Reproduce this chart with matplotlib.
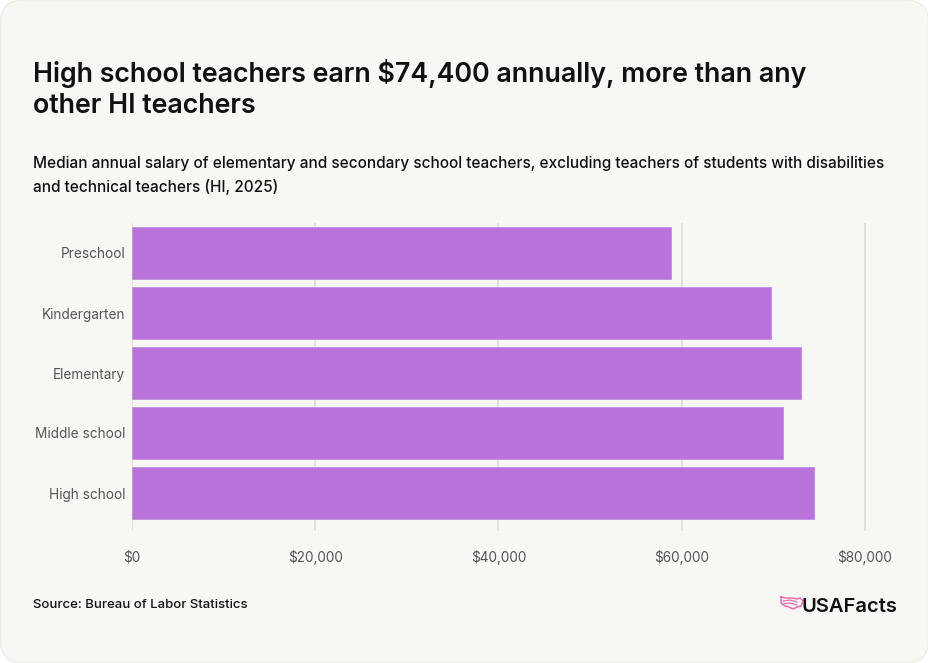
import numpy as np
import matplotlib.pyplot as plt
from matplotlib.patches import FancyBboxPatch
from matplotlib.ticker import FuncFormatter

# Dados
categorias = ['Preschool', 'Kindergarten', 'Elementary', 'Middle school', 'High school']
salarios = [58800, 69700, 73000, 71000, 74400]
ticks_x = [0, 20000, 40000, 60000, 80000]

W, H = 929, 663
fig = plt.figure(figsize=(W / 100, H / 100), dpi=100)
fig.patch.set_facecolor('white')

# Fundo do cartão com cantos arredondados
card = FancyBboxPatch((0.5, 0.5), W - 1, H - 1, boxstyle='round,pad=0,rounding_size=22',
                      transform=None, facecolor='#f7f7f3', edgecolor='#ececea', lw=1, zorder=-5)
fig.patches.append(card)

fam = ['Inter', 'DejaVu Sans']

# baseline da última linha
fig.text(33 / W, 1 - 113 / H, 'High school teachers earn $74,400 annually, more than any\nother HI teachers',
         fontsize=19.3, fontweight='semibold', family=fam, color='#111111', va='baseline',
         linespacing=1.24)
fig.text(33 / W, 1 - 192 / H, 'Median annual salary of elementary and secondary school teachers, excluding teachers of students with disabilities\nand technical teachers (HI, 2025)',
         fontsize=11.05, fontweight='medium', family=fam, color='#111111', va='baseline',
         linespacing=1.6)

# Eixos
ax_l, ax_r = 132, 880
ax_t, ax_b = 223, 531
ax = fig.add_axes([ax_l / W, 1 - ax_b / H, (ax_r - ax_l) / W, (ax_b - ax_t) / H])
ax.set_facecolor('none')

y = np.arange(len(categorias))
ax.barh(y, salarios, height=0.867, color='#b974dc', edgecolor='#c58ce0', lw=0.6, zorder=3)

px_per = 80000 / (865 - ax_l)
ax.set_xlim(0, (ax_r - ax_l) * px_per)
ax.set_ylim(4 + 38 / 60, -0.5)
ax.set_xticks(ticks_x)
ax.xaxis.set_major_formatter(FuncFormatter(lambda v, p: f'${v:,.0f}'))
ax.set_yticks(y)
ax.set_yticklabels(categorias)
ax.grid(axis='x', color='#dcdcd8', lw=1.2, zorder=0)
ax.tick_params(axis='both', length=0, labelsize=9.8, labelcolor='#555555')
ax.tick_params(axis='x', pad=14)
ax.tick_params(axis='y', pad=5)
for lab in ax.get_xticklabels() + ax.get_yticklabels():
    lab.set_family(fam)
for s in ax.spines.values():
    s.set_visible(False)

fig.text(33 / W, 1 - 608 / H, 'Source: Bureau of Labor Statistics', fontsize=9.5,
         fontweight='medium', family=fam, color='#111111', va='baseline')

# Logo
fig.text(897 / W, 1 - 612 / H, 'USAFacts', fontsize=14.5, fontweight='semibold', family=fam,
         color='#111111', ha='right', va='baseline')
lx = np.array([781, 786, 792, 797, 800, 803, 801, 797, 793, 789, 785, 781, 781])
ly = np.array([597, 598, 598, 599, 598, 601, 606, 607, 609, 607, 606, 603, 597])
fig.add_artist(plt.Line2D(lx / W, 1 - ly / H, color='#ef6fae', lw=1.1))
for off in (601, 604):
    fig.add_artist(plt.Line2D(np.array([783, 790, 797]) / W, 1 - np.array([off, off - 1, off + 1]) / H,
                              color='#ef6fae', lw=0.9))

fig.savefig('out.png', dpi=100, facecolor=fig.get_facecolor())
